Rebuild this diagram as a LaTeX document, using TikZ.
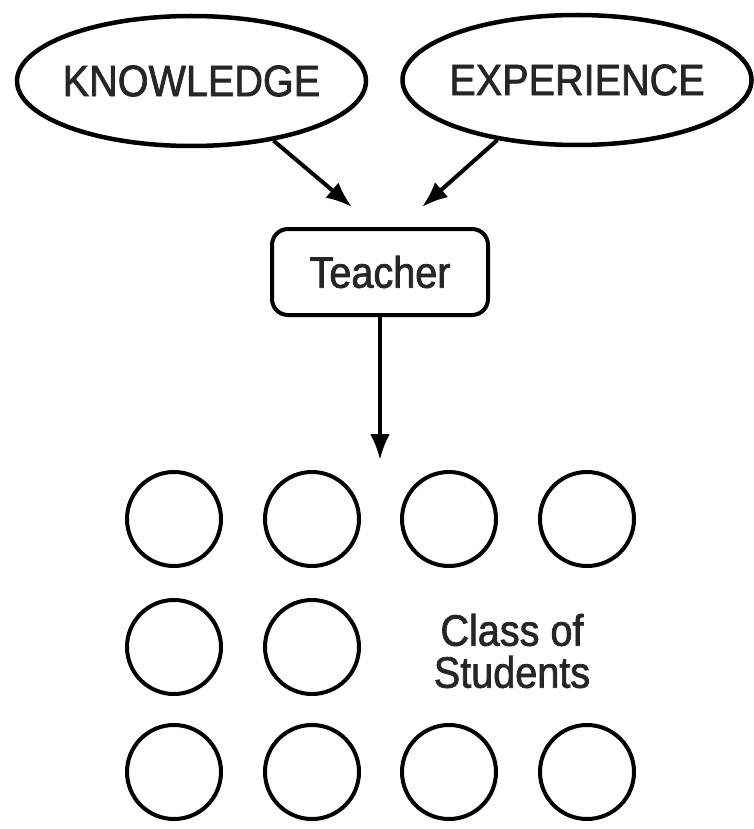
\documentclass[tikz,border=0pt]{standalone}
\usepackage{fontspec}
\setmainfont{Liberation Sans}[FakeStretch=0.9,FakeBold=1.6]
\usetikzlibrary{shapes.geometric,arrows.meta}

\begin{document}
\begin{tikzpicture}[x=1pt,y=1pt,yscale=-1,
		idea/.style={draw,ellipse,line width=4.5pt,minimum width=349pt,minimum height=130pt,inner xsep=-15pt,inner ysep=0pt,font=\fontsize{44}{42}\selectfont,text=black!85},
		teach/.style={draw,rectangle,rounded corners=16pt,line width=4pt,minimum width=216pt,minimum height=86pt,font=\fontsize{44}{42}\selectfont,text=black!85},
		pupil/.style={draw,circle,line width=4pt,minimum size=94pt,inner sep=0pt},
		conn/.style={-{Latex[length=26pt,width=20pt]},line width=4pt}]
		%set diagram frame: 753 wide, 829 high
		\useasboundingbox (0,0) rectangle (753,829);
		
		%Shape: Ellipse [know]
		\node [idea] (know) at (191.5,81) {KNOWLEDGE};
		%Shape: Ellipse [exp]
		\node [idea] (exp) at (577,80) {EXPERIENCE};
		%Shape: Rounded Rect [teacher]
		\node [teach] (teacher) at (380,272) {Teacher};
		
		%arrow ends above the box and above the class
		\coordinate (kin) at (352,207);
		\coordinate (ein) at (422,207);
		\coordinate (cls) at (380,460);
		
		%Straight Lines [know -> teacher]
		\draw [conn] (know.-36) -- (kin) ;
		%Straight Lines [exp -> teacher]
		\draw [conn] (exp.-143) -- (ein) ;
		%Straight Lines [teacher -> class]
		\draw [conn] (teacher) -- (cls) ;
		
		%Shape: Circle [first row]
		\node [pupil] (s11) at (174,519) {};
		\node [pupil] (s12) at (312,519) {};
		\node [pupil] (s13) at (449,519) {};
		\node [pupil] (s14) at (587,519) {};
		%Shape: Circle [second row]
		\node [pupil] (s21) at (174,647) {};
		\node [pupil] (s22) at (312,647) {};
		%Shape: Circle [third row]
		\node [pupil] (s31) at (174,772) {};
		\node [pupil] (s32) at (312,772) {};
		\node [pupil] (s33) at (449,772) {};
		\node [pupil] (s34) at (587,772) {};
		
		% Text Node
		\node [align=center,font=\fontsize{44}{42}\selectfont,text=black!85] (classlbl) at (512,651) {Class of\\Students};
	\end{tikzpicture}
\end{document}
